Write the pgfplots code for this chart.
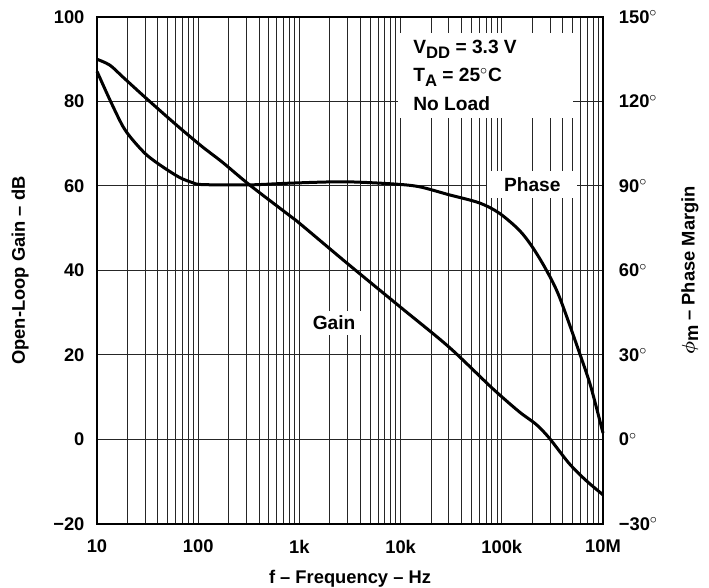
\documentclass[border=0pt]{standalone}
\usepackage{pgfplots}
\pgfplotsset{compat=1.18}
\usepackage{fontspec}
\setmainfont{Liberation Sans}
\begin{document}
\begin{tikzpicture}
\pgfplotsset{
  every tick label/.append style={font=\bfseries\fontsize{11}{13}\selectfont},
  label style={font=\bfseries\fontsize{11}{13}\selectfont},
}
\begin{axis}[
  at={(0,0)}, anchor=south west,
  width=303.6pt, height=304.2pt, scale only axis,
  xmode=log, xmin=10, xmax=1e6,
  ymin=-20, ymax=100,
  xtick={10,100,1000,10000,100000,1000000},
  xticklabels={10,100,1k,10k,100k,10M},
  ytick={-20,0,20,40,60,80,100},
  yticklabels={−20,0,20,40,60,80,100},
  grid=both,
  major grid style={black!85, line width=0.6pt},
  minor grid style={black!85, line width=0.6pt},
  axis line style={line width=1.5pt},
  major tick length=0pt, minor tick length=0pt,
  xticklabel style={yshift=-6pt},
  yticklabel style={xshift=-4pt},
  xlabel={f – Frequency – Hz},
  ylabel={Open-Loop Gain – dB},
  xlabel style={at={(axis description cs:0.5,-0.1164)}, anchor=base},
  ylabel style={at={(axis description cs:-0.152,0.5)}, anchor=center},
  clip=false,
]
\addplot[black, line width=1.8pt, smooth] coordinates {
(10,90.0) (13.4,88.6) (18,85.8) (28,81.6) (45,77.2) (70,73.2) (111,69.2)
(174,65.6) (324,60.2) (800,53.0) (1000,51.2) (3000,41.6) (10000,31.3)
(30000,21.9) (80000,12.2) (148000,6.6) (218000,3.6) (293000,0.4)
(460000,-5.6) (673000,-9.6) (1000000,-13.1)
};
\fill[white] (rel axis cs:0.595,0.968) rectangle (rel axis cs:0.941,0.801);
\node[anchor=north west, align=left, inner sep=0pt,
      font=\bfseries\fontsize{11.5}{16}\selectfont]
  at (rel axis cs:0.6245,0.955)
  {V\raisebox{-0.45ex}{\fontsize{10}{10}\selectfont DD} = 3.3 V\\[1pt]
   T\raisebox{-0.45ex}{\fontsize{10}{10}\selectfont A} = 25$^{\circ}$C\\[1pt]
   No Load};
\node[fill=white, inner xsep=5pt, inner ysep=3pt,
      font=\bfseries\fontsize{11.5}{13}\selectfont]
  at (axis cs:2200,27.6) {Gain};
\node[fill=white, inner xsep=10pt, inner ysep=4pt,
      font=\bfseries\fontsize{11.5}{13}\selectfont]
  at (axis cs:200000,60.4) {Phase};
\end{axis}
\begin{axis}[
  at={(0,0)}, anchor=south west,
  width=303.6pt, height=304.2pt, scale only axis,
  xmode=log, xmin=10, xmax=1e6,
  ymin=-30, ymax=150,
  axis x line=none,
  axis y line*=right,
  y axis line style={line width=1.5pt},
  ytick={-30,0,30,60,90,120,150},
  yticklabels={−30$^{\circ}$,0$^{\circ}$,30$^{\circ}$,60$^{\circ}$,90$^{\circ}$,120$^{\circ}$,150$^{\circ}$},
  major tick length=0pt,
  yticklabel style={xshift=6pt},
  ylabel={{\boldmath$\phi$}\raisebox{-0.35ex}{m} – Phase Margin},
  ylabel style={at={(axis description cs:1.172,0.5)}, anchor=center},
  clip=false,
]
\addplot[black, line width=1.8pt, smooth] coordinates {
(10,130.7) (13.4,120.6) (18,111.2) (22.6,106.3) (31,101.0) (44.6,96.8)
(65.8,93.0) (88,91.2) (110,90.5) (324,90.4) (800,91.0) (2700,91.5) (7800,90.8)
(15000,89.8) (30000,86.9) (60000,84.0) (94000,80.4) (148000,74.4)
(200000,68.4) (275000,60.2) (371000,50.6) (605000,29.3) (760000,18.6)
(1000000,2.3)
};
\end{axis}
\pgfresetboundingbox
\path[use as bounding box] (-58.2pt,-38.4pt) rectangle (367.2pt,314.4pt);
\end{tikzpicture}
\end{document}
